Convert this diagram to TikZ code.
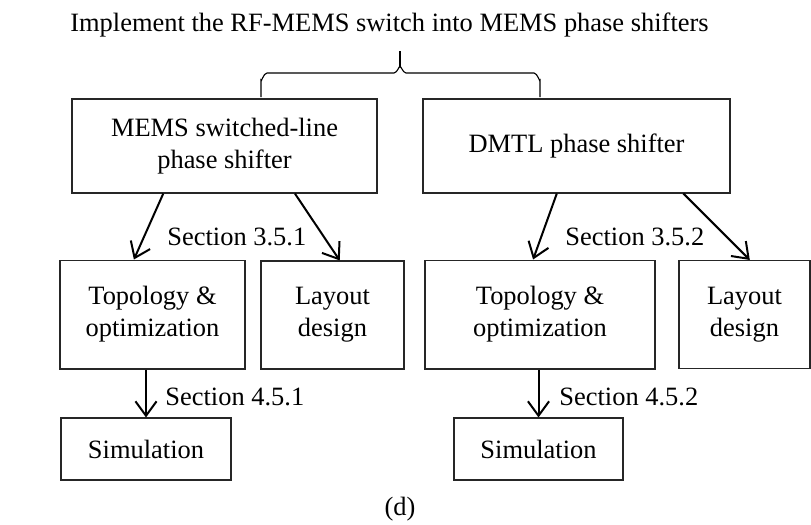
\documentclass[tikz,border=0pt]{standalone}
\usepackage{fontspec}
\setmainfont{Liberation Serif}
\usepackage{tikz}
\usetikzlibrary{arrows.meta}
\usetikzlibrary{calc}
\tikzstyle{stage} = [rectangle, draw=black!85, line width=0.5pt, inner sep=0pt, align=center, font=\fontsize{11.9}{14.4}\selectfont]
\tikzstyle{tag} = [inner sep=0pt, font=\fontsize{11.9}{14.4}\selectfont]
\tikzstyle{arrow} = [line width=0.9pt, -{Straight Barb[length=6.5pt, width=9.5pt]}]

\begin{document}
\begin{tikzpicture}[x=0.45pt, y=-0.45pt]
    \useasboundingbox (0,0) rectangle (811,524);
    \node(title)[tag, anchor=base] at (389.5,31) {Implement the RF-MEMS switch into MEMS phase shifters};
    %
    \node(mems)[stage, minimum width=137.25pt, minimum height=42.3pt] at (224.5,146) {MEMS switched-line\\phase shifter};
    \node(dmtl)[stage, minimum width=138.15pt, minimum height=42.3pt] at (576.5,146) {DMTL phase shifter};
    \node(topoL)[stage, minimum width=83.25pt, minimum height=49pt] at (152.5,314.5) {Topology \&\\optimization};
    \node(layL)[stage, minimum width=64.35pt, minimum height=48.6pt] at (332.5,315) {Layout\\design};
    \node(topoR)[stage, minimum width=103.5pt, minimum height=49pt] at (540,314.5) {Topology \&\\optimization};
    \node(layR)[stage, minimum width=58.95pt, minimum height=48.6pt] at (744.5,314.5) {Layout\\design};
    \node(simL)[stage, minimum width=76.5pt, minimum height=27.9pt] at (146,449) {Simulation};
    \node(simR)[stage, minimum width=76.05pt, minimum height=27.9pt] at (538.5,449) {Simulation};
    %
    \node(sec351)[tag, anchor=base west] at (167,245) {Section 3.5.1};
    \node(sec352)[tag, anchor=base west] at (565,245) {Section 3.5.2};
    \node(sec451)[tag, anchor=base west] at (165,405) {Section 4.5.1};
    \node(sec452)[tag, anchor=base west] at (559,405) {Section 4.5.2};
    \node(caption)[tag, anchor=base] at (400,515) {(d)};
    %
    \draw[line width=0.5pt] (261,97) -- (261,80) to[out=-90,in=180] (267,73) -- (394,73) to[out=0,in=90] (400,67)
        to[out=90,in=180] (406,73) -- (534,73) to[out=0,in=-90] (540,80) -- (540,97);
    \draw[line width=0.5pt] (400,67) -- (400,51);
    %
    \draw[arrow] ($(mems.south west)!0.3!(mems.south east)$) -- ($(topoL.north west)!0.4!(topoL.north east)$);
    \draw[arrow] ($(mems.south west)!0.73!(mems.south east)$) -- ($(layL.north west)!0.55!(layL.north east)$);
    \draw[arrow] ($(dmtl.south west)!0.436!(dmtl.south east)$) -- ($(topoR.north west)!0.47!(topoR.north east)$);
    \draw[arrow] ($(dmtl.south west)!0.847!(dmtl.south east)$) -- ($(layR.north west)!0.54!(layR.north east)$);
    \draw[arrow] (simL.north |- topoL.south) -- (simL.north);
    \draw[arrow] (simR.north |- topoR.south) -- (simR.north);
\end{tikzpicture}
\end{document}
